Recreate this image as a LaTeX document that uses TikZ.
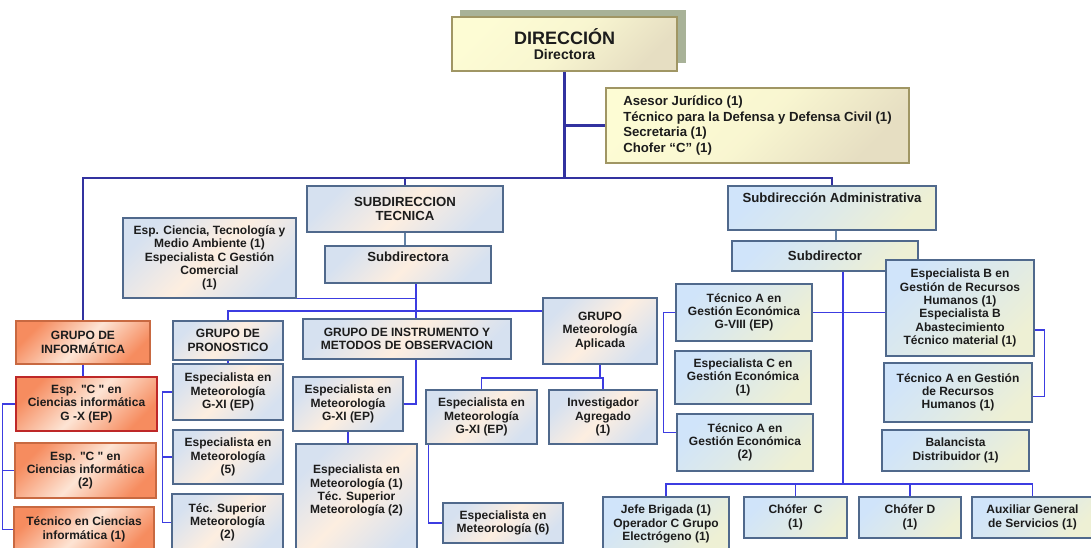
\documentclass[tikz,border=0pt]{standalone}
\usepackage{fontspec}
\setmainfont{Liberation Sans}[Ligatures=TeXOff]
\usetikzlibrary{calc}
\pgfdeclarelayer{bg}
\pgfsetlayers{bg,main}
\definecolor{txt}{RGB}{28,28,28}
\definecolor{mainB}{RGB}{50,50,160}
\definecolor{thinB}{RGB}{60,60,225}
\definecolor{grayB}{RGB}{100,130,165}
\definecolor{bordB}{RGB}{80,105,140}
\definecolor{bordO}{RGB}{200,105,65}
\definecolor{bordR}{RGB}{190,40,40}
\definecolor{bordY}{RGB}{160,150,100}
\definecolor{techA}{RGB}{214,225,240}
\definecolor{techB}{RGB}{253,238,224}
\definecolor{orA}{RGB}{246,140,95}
\definecolor{orB}{RGB}{253,228,212}
\definecolor{adA}{RGB}{208,228,250}
\definecolor{adB}{RGB}{238,240,212}
\definecolor{yeA}{RGB}{253,252,212}
\definecolor{yeB}{RGB}{230,222,194}
\definecolor{shadowc}{RGB}{168,178,152}
\newcommand{\bx}[7]{\node[#2, minimum width={(#5-#3)*0.75pt}, minimum height={(#6-#4)*0.75pt}] (#1) at ({(#3+#5)/2},{(#4+#6)/2}) {#7};}
\begin{document}
\begin{tikzpicture}[x=0.75pt,y=-0.75pt,
  box/.style={draw, line width=0.8pt, align=center, inner sep=1pt, font=\fontsize{9}{10}\selectfont\bfseries, text=txt},
  big10/.style={font=\fontsize{9.9}{11}\selectfont\bfseries},
  tech/.style={box, draw=bordB, left color=techA, right color=techA, middle color=techB, shading angle=45},
  ora/.style={box, draw=bordO, left color=orA, right color=orA, middle color=orB, shading angle=45},
  adm/.style={box, draw=bordB, left color=adA, right color=adB, middle color=adA!55!adB, shading angle=45},
  yel/.style={box, draw=bordY, left color=yeA, right color=yeB, middle color=yeA!80!yeB, shading angle=45},
  mainline/.style={draw=mainB, line width=2.2pt},
  thinline/.style={draw=thinB, line width=0.9pt},
  grayline/.style={draw=grayB, line width=0.9pt}
]
\useasboundingbox (0,0) rectangle (1091,548);
\fill[shadowc] (460,10) rectangle (686,63);
\bx{dir}{yel}{452}{17}{677}{71}{{\fontsize{13.5}{15}\selectfont DIRECCIÓN}\\[1pt]{\fontsize{10.5}{12}\selectfont Directora}}
\bx{ase}{yel, align=left, font=\fontsize{9.9}{11.8}\selectfont\bfseries}{606}{88}{909}{163}{Asesor Jurídico (1)\\Técnico para la Defensa y Defensa Civil (1)\\Secretaria (1)\\Chofer “C” (1)}
\bx{st}{tech, big10}{307}{186}{503}{232}{SUBDIRECCION\\TECNICA}
\bx{sdra}{tech, big10, text depth=11pt}{325}{246}{491}{283}{Subdirectora}
\bx{esp}{tech}{123}{218}{296}{298}{Esp. Ciencia, Tecnología y\\Medio Ambiente (1)\\Especialista C Gestión\\Comercial\\(1)}
\bx{inf}{ora}{16}{321}{150}{364}{GRUPO DE\\INFORMÁTICA}
\bx{pron}{tech}{173}{321}{283}{360}{GRUPO DE\\PRONOSTICO}
\bx{inst}{tech}{303}{319}{511}{359}{GRUPO DE INSTRUMENTO Y\\METODOS DE OBSERVACION}
\bx{gma}{tech}{543}{298}{657}{364}{GRUPO\\Meteorología\\Aplicada}
\bx{ig}{ora, draw=bordR}{16}{377}{157}{431}{Esp. "C " en\\Ciencias informática\\G -X (EP)}
\bx{i2}{ora}{15}{443}{156}{498}{Esp. "C " en\\Ciencias informática\\(2)}
\bx{i3}{ora}{14}{507}{154}{552}{Técnico en Ciencias\\informática (1)}
\bx{pG}{tech}{173}{364}{283}{420}{Especialista en\\Meteorología\\G-XI (EP)}
\bx{p2}{tech}{173}{430}{283}{484}{Especialista en\\Meteorología\\(5)}
\bx{p3}{tech}{172}{494}{283}{551}{Téc. Superior\\Meteorología\\(2)}
\bx{iG}{tech}{293}{377}{403}{431}{Especialista en\\Meteorología\\G-XI (EP)}
\bx{big}{tech, text depth=19pt}{296}{444}{417}{560}{Especialista en\\Meteorología (1)\\Téc. Superior\\Meteorología (2)}
\bx{aG}{tech}{426}{390}{537}{444}{Especialista en\\Meteorología\\G-XI (EP)}
\bx{inv}{tech}{549}{390}{657}{444}{Investigador\\Agregado\\(1)}
\bx{a6}{tech}{443}{503}{563}{543}{Especialista en\\Meteorología (6)}
\bx{sa}{adm, big10, text depth=15pt}{728}{186}{936}{230}{Subdirección Administrativa}
\bx{sub}{adm, big10}{732}{241}{918}{271}{Subdirector}
\bx{espB}{adm}{886}{260}{1034}{356}{Especialista B en\\Gestión de Recursos\\Humanos (1)\\Especialista B\\Abastecimiento\\Técnico material (1)}
\bx{tgr}{adm}{884}{363}{1032}{422}{Técnico A en Gestión\\de Recursos\\Humanos (1)}
\bx{tg8}{adm}{676}{284}{812}{341}{Técnico A en\\Gestión Económica\\G-VIII (EP)}
\bx{tgc}{adm}{675}{351}{811}{404}{Especialista C en\\Gestión Económica\\(1)}
\bx{tg2}{adm}{677}{414}{813}{471}{Técnico A en\\Gestión Económica\\(2)}
\bx{bal}{adm}{882}{430}{1029}{471}{Balancista\\Distribuidor (1)}
\bx{jb}{adm}{603}{497}{729}{551}{Jefe Brigada (1)\\Operador C Grupo\\Electrógeno (1)}
\bx{chc}{adm}{744}{497}{847}{538}{Chófer~ C\\(1)}
\bx{chd}{adm}{859}{497}{961}{538}{Chófer D\\(1)}
\bx{aux}{adm}{972}{497}{1093}{538}{Auxiliar General\\de Servicios (1)}
\coordinate (mb) at (0,178);
\coordinate (tx) at (416,0);
\coordinate (hb) at (0,311);
\coordinate (hc) at (0,378);
\coordinate (ax) at (836,0);
\coordinate (bx2) at (843,0);
\coordinate (bb) at (0,484);
\begin{pgfonlayer}{bg}
\draw[mainline] (dir.south) -- (dir.south |- mb);
\draw[mainline] (dir.south |- ase.west) -- (ase.west);
\draw[mainline] (inf.north) -- (inf.north |- mb) -- (sa.north |- mb) -- (sa.north);
\draw[mainline] (st.north |- mb) -- (st.north);
\draw[grayline] (st.south) -- (st.south |- sdra.north);
\draw[thinline] (sdra.south -| tx) -- (inst.north -| tx);
\draw[thinline] (esp.south east) -- (esp.south east -| tx);
\draw[thinline] (pron.north) -- (pron.north |- hb) -- (gma.west |- hb);
\draw[thinline] (pron.south) -- (pG.north);
\draw[thinline] (pG.west) -- ++(-10,0) |- (p3.west);
\draw[thinline] (p2.west) -- ++(-10,0);
\draw[thinline] (inf.south) -- (inf.south |- ig.north);
\draw[thinline] (ig.west) -- ++(-13,0) |- (i3.west);
\draw[thinline] (i2.west) -- ++(-12,0);
\draw[thinline] (inst.south -| tx) |- (iG.east);
\draw[thinline] (iG.south) -- (iG.south |- big.north);
\draw[thinline] (gma.south) -- (gma.south |- hc);
\draw[thinline] (aG.north) |- (inv.north |- hc) -- (inv.north);
\draw[thinline] ($(aG.south west)+(3,0)$) |- (a6.west);
\draw[grayline] (sa.south -| ax) -- (sub.north -| ax);
\draw[thinline] (sub.south -| bx2) -- (bx2 |- bb);
\draw[thinline] (tg8.east) -- (tg8.east -| espB.west);
\draw[thinline] ($(bal.west)+(0,-6)$) -- ($(bal.west)+(0,-6)$ -| bx2);
\draw[thinline] (tg8.west) -- ++(-12,0) |- ($(tg2.north west)+(0,19)$);
\draw[thinline] ($(espB.east)+(0,22)$) -- ++(10,0) |- ($(tgr.east)+(0,4)$);
\draw[thinline] (jb.north) -- (jb.north |- bb) -- (aux.north |- bb) -- (aux.north);
\draw[thinline] (chc.north) -- (chc.north |- bb);
\draw[thinline] (chd.north) -- (chd.north |- bb);
\end{pgfonlayer}
\end{tikzpicture}
\end{document}
